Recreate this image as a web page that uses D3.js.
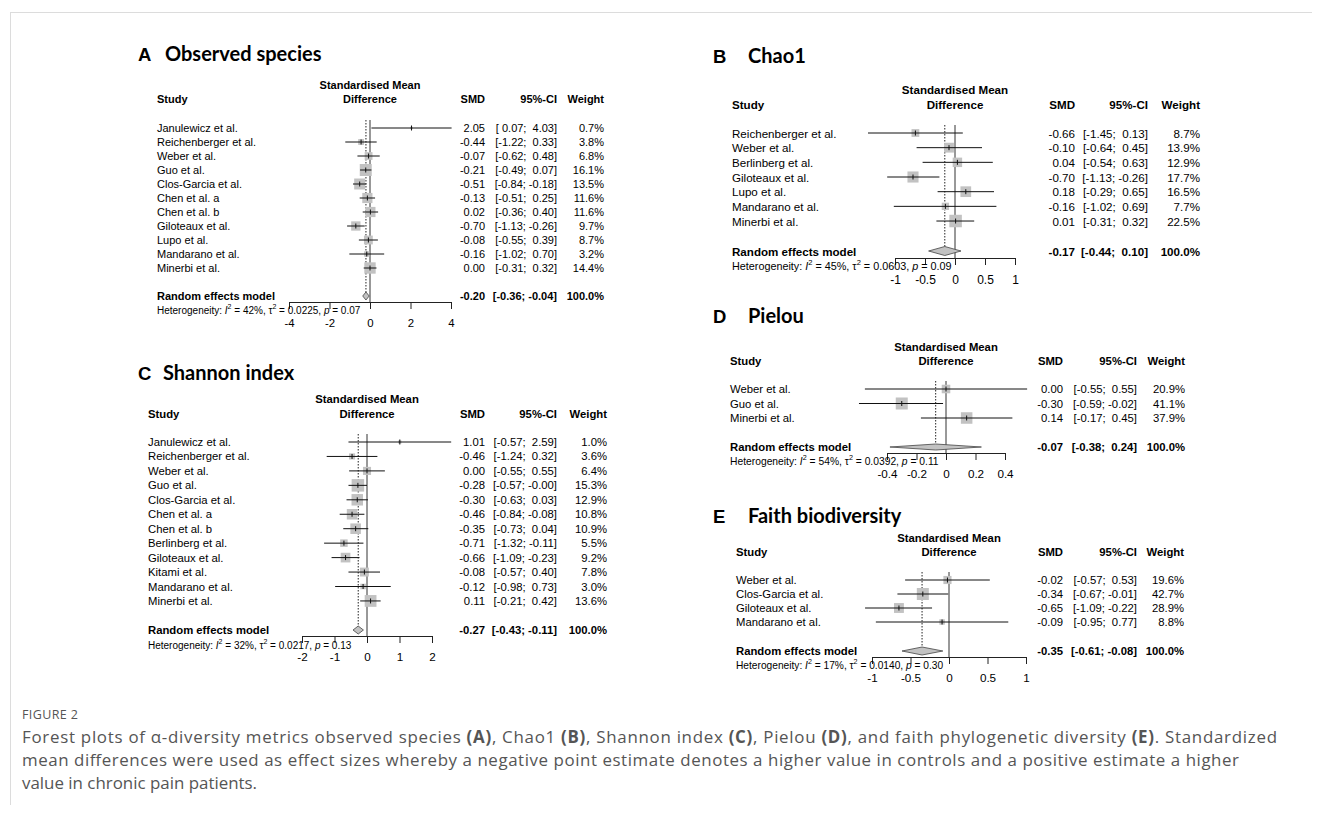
<!DOCTYPE html>
<html><head><meta charset="utf-8">
<script src="https://cdn.jsdelivr.net/npm/d3@7"></script>
<style>
body{margin:0;background:#fff;}
svg text{font-family:"Liberation Sans",Arial,sans-serif;fill:#000;white-space:pre;}
.ttl{font-family:Lato,"Open Sans",sans-serif !important;font-weight:700;}
.cap{font-family:"Open Sans","Noto Sans",sans-serif !important;fill:#555 !important;}
</style></head><body>
<svg id="c" width="1322" height="819"></svg>
<script>
// ---------- Panel A: Observed species ----------
const studiesA = ["Janulewicz et al.","Reichenberger et al.","Weber et al.","Guo et al.","Clos-Garcia et al.","Chen et al. a","Chen et al. b","Giloteaux et al.","Lupo et al.","Mandarano et al.","Minerbi et al."];
const smdA    = [2.05,-0.44,-0.07,-0.21,-0.51,-0.13,0.02,-0.70,-0.08,-0.16,0.00];
const lowerA  = [0.07,-1.22,-0.62,-0.49,-0.84,-0.51,-0.36,-1.13,-0.55,-1.02,-0.31];
const upperA  = [4.03,0.33,0.48,0.07,-0.18,0.25,0.40,-0.26,0.39,0.70,0.32];
const weightA = [0.7,3.8,6.8,16.1,13.5,11.6,11.6,9.7,8.7,3.2,14.4];
const pooledA = [-0.20,-0.36,-0.04];
const hetA    = ["42%","0.0225","0.07"];
const ticksA  = [-4,-2,0,2,4];
const tickLabelsA = ["-4","-2","0","2","4"];

// ---------- Panel B: Chao1 ----------
const studiesB = ["Reichenberger et al.","Weber et al.","Berlinberg et al.","Giloteaux et al.","Lupo et al.","Mandarano et al.","Minerbi et al."];
const smdB    = [-0.66,-0.10,0.04,-0.70,0.18,-0.16,0.01];
const lowerB  = [-1.45,-0.64,-0.54,-1.13,-0.29,-1.02,-0.31];
const upperB  = [0.13,0.45,0.63,-0.26,0.65,0.69,0.32];
const weightB = [8.7,13.9,12.9,17.7,16.5,7.7,22.5];
const pooledB = [-0.17,-0.44,0.10];
const hetB    = ["45%","0.0603","0.09"];
const ticksB  = [-1,-0.5,0,0.5,1];
const tickLabelsB = ["-1","-0.5","0","0.5","1"];

// ---------- Panel C: Shannon index ----------
const studiesC = ["Janulewicz et al.","Reichenberger et al.","Weber et al.","Guo et al.","Clos-Garcia et al.","Chen et al. a","Chen et al. b","Berlinberg et al.","Giloteaux et al.","Kitami et al.","Mandarano et al.","Minerbi et al."];
const smdC    = [1.01,-0.46,0.00,-0.28,-0.30,-0.46,-0.35,-0.71,-0.66,-0.08,-0.12,0.11];
const lowerC  = [-0.57,-1.24,-0.55,-0.57,-0.63,-0.84,-0.73,-1.32,-1.09,-0.57,-0.98,-0.21];
const upperC  = [2.59,0.32,0.55,-0,0.03,-0.08,0.04,-0.11,-0.23,0.40,0.73,0.42];
const weightC = [1.0,3.6,6.4,15.3,12.9,10.8,10.9,5.5,9.2,7.8,3.0,13.6];
const pooledC = [-0.27,-0.43,-0.11];
const hetC    = ["32%","0.0217","0.13"];
const ticksC  = [-2,-1,0,1,2];
const tickLabelsC = ["-2","-1","0","1","2"];

// ---------- Panel D: Pielou ----------
const studiesD = ["Weber et al.","Guo et al.","Minerbi et al."];
const smdD    = [0.00,-0.30,0.14];
const lowerD  = [-0.55,-0.59,-0.17];
const upperD  = [0.55,-0.02,0.45];
const weightD = [20.9,41.1,37.9];
const pooledD = [-0.07,-0.38,0.24];
const hetD    = ["54%","0.0392","0.11"];
const ticksD  = [-0.4,-0.2,0,0.2,0.4];
const tickLabelsD = ["-0.4","-0.2","0","0.2","0.4"];

// ---------- Panel E: Faith biodiversity ----------
const studiesE = ["Weber et al.","Clos-Garcia et al.","Giloteaux et al.","Mandarano et al."];
const smdE    = [-0.02,-0.34,-0.65,-0.09];
const lowerE  = [-0.57,-0.67,-1.09,-0.95];
const upperE  = [0.53,-0.01,-0.22,0.77];
const weightE = [19.6,42.7,28.9,8.8];
const pooledE = [-0.35,-0.61,-0.08];
const hetE    = ["17%","0.0140","0.30"];
const ticksE  = [-1,-0.5,0,0.5,1];
const tickLabelsE = ["-1","-0.5","0","0.5","1"];

const svg = d3.select("#c");

// frame lines
svg.append("line").attr("x1",10).attr("x2",1312).attr("y1",12.5).attr("y2",12.5).attr("stroke","#dcdcdc");
svg.append("line").attr("x1",10.5).attr("x2",10.5).attr("y1",12).attr("y2",805).attr("stroke","#dcdcdc");

function isNeg(v){ return v<0 || Object.is(v,-0); }
function f2(v){ return (isNeg(v)?"-":"")+Math.abs(v).toFixed(2); }
function padv(v){ return isNeg(v) ? f2(v) : " "+f2(v); }
function ciText(lo,hi){ return "["+padv(lo)+"; "+padv(hi)+"]"; }

function drawPanel(p){
  const g = svg.append("g");
  const x = d3.scaleLinear().domain(p.domain).range(p.range);
  const yRow = i => p.rowY0 + i*p.rowStep;
  const fs = p.fs;

  // titles
  g.append("text").attr("x",p.letterX).attr("y",p.titleY)
    .style("font-weight","700").style("font-size","18.5px").text(p.letter);
  g.append("text").attr("class","ttl").attr("x",p.titleX).attr("y",p.titleY)
    .style("font-size","20px").text(p.title);

  // headers
  const hd = (t,xx,yy,anchor)=> g.append("text").attr("x",xx).attr("y",yy)
      .attr("dominant-baseline","central").attr("text-anchor",anchor)
      .style("font-weight","700").style("font-size",fs+"px").text(t);
  const xc = (p.range[0]+p.range[1])/2;
  hd("Study",p.studyX,p.head2,"start");
  hd("Standardised Mean",xc,p.head1,"middle");
  hd("Difference",xc,p.head2,"middle");
  hd("SMD",p.smdR,p.head2,"end");
  hd("95%-CI",p.ciR,p.head2,"end");
  hd("Weight",p.wR,p.head2,"end");

  // reference lines
  g.append("line").attr("x1",x(0)).attr("x2",x(0)).attr("y1",p.refTop).attr("y2",p.axisY)
    .attr("stroke","#333").attr("stroke-width",1);
  g.append("line").attr("x1",x(p.pooled[0])).attr("x2",x(p.pooled[0])).attr("y1",p.refTop).attr("y2",p.pooledY-3)
    .attr("stroke","#222").attr("stroke-width",1).attr("stroke-dasharray","1.5,1.5");

  // squares
  const wmax = d3.max(p.weight);
  const sz = d3.scaleSqrt().domain([0,wmax]).range([0,p.sqMax]);
  const rows = p.studies.map((s,i)=>({s,i,m:p.smd[i],lo:p.lower[i],hi:p.upper[i],w:p.weight[i]}));
  g.selectAll(".sq").data(rows).join("rect")
    .attr("x",d=>x(d.m)-sz(d.w)/2).attr("y",d=>yRow(d.i)-sz(d.w)/2)
    .attr("width",d=>sz(d.w)).attr("height",d=>sz(d.w)).attr("fill","#c2c2c2");
  g.selectAll(".ci").data(rows).join("line")
    .attr("x1",d=>x(d.lo)).attr("x2",d=>x(d.hi)).attr("y1",d=>yRow(d.i)).attr("y2",d=>yRow(d.i))
    .attr("stroke","#111").attr("stroke-width",1);
  g.selectAll(".pt").data(rows).join("line")
    .attr("x1",d=>x(d.m)).attr("x2",d=>x(d.m)).attr("y1",d=>yRow(d.i)-2.5).attr("y2",d=>yRow(d.i)+2.5)
    .attr("stroke","#111").attr("stroke-width",1);

  // row texts
  const rt = (t,xx,yy,anchor,bold)=> g.append("text").attr("x",xx).attr("y",yy)
      .attr("dominant-baseline","central").attr("text-anchor",anchor)
      .style("font-size",fs+"px").style("font-weight",bold?"700":"400").text(t);
  rows.forEach(d=>{
    const yy = yRow(d.i);
    rt(d.s,p.studyX,yy,"start");
    rt(f2(d.m),p.smdR,yy,"end");
    rt(ciText(d.lo,d.hi),p.ciR,yy,"end");
    rt(d.w.toFixed(1)+"%",p.wR,yy,"end");
  });

  // pooled
  const [pm,pl,ph] = p.pooled;
  const dh = p.dh;
  g.append("path").attr("d",`M${x(pl)},${p.pooledY}L${x(pm)},${p.pooledY-dh}L${x(ph)},${p.pooledY}L${x(pm)},${p.pooledY+dh}Z`)
    .attr("fill","#c2c2c2").attr("stroke","#444").attr("stroke-width",0.8);
  rt("Random effects model",p.studyX,p.pooledY,"start",true);
  rt(f2(pm),p.smdR,p.pooledY,"end",true);
  rt(ciText(pl,ph),p.ciR,p.pooledY,"end",true);
  rt("100.0%",p.wR,p.pooledY,"end",true);

  // axis
  const ax = d3.axisBottom(x).tickValues(p.ticks).tickSize(7).tickSizeOuter(0).tickPadding(p.tickPad)
    .tickFormat((d,i)=>p.tickLabels[i]);
  const axg = g.append("g").attr("transform",`translate(0,${p.axisY})`).call(ax);
  axg.select(".domain").attr("stroke","#222");
  axg.selectAll(".tick line").attr("stroke","#222");
  axg.selectAll(".tick text").style("font-size",(fs+0.4)+"px").style("font-family","Liberation Sans, Arial, sans-serif").attr("fill","#000");

  // heterogeneity
  const ht = g.append("text").attr("x",p.studyX).attr("y",p.hetY).attr("dominant-baseline","central")
    .style("font-size",p.hfs+"px");
  ht.append("tspan").text("Heterogeneity: ");
  ht.append("tspan").style("font-style","italic").text("I");
  ht.append("tspan").attr("baseline-shift","45%").style("font-size",(p.hfs*0.7)+"px").text("2");
  ht.append("tspan").text(" = "+p.het[0]+", \u03c4");
  ht.append("tspan").attr("baseline-shift","45%").style("font-size",(p.hfs*0.7)+"px").text("2");
  ht.append("tspan").text(" = "+p.het[1]+", ");
  ht.append("tspan").style("font-style","italic").text("p");
  ht.append("tspan").text(" = "+p.het[2]);
}

drawPanel({letter:"A",title:"Observed species",letterX:138,titleX:165,titleY:61,
  studies:studiesA,smd:smdA,lower:lowerA,upper:upperA,weight:weightA,pooled:pooledA,het:hetA,ticks:ticksA,tickLabels:tickLabelsA,
  domain:[-4,4],range:[289,451],studyX:157,head1:85,head2:99,rowY0:128,rowStep:14,pooledY:296,hetY:310,axisY:302,refTop:120,
  smdR:485,ciR:557,wR:604,fs:11,hfs:10,sqMax:12,dh:4,tickPad:10});

drawPanel({letter:"B",title:"Chao1",letterX:713,titleX:748,titleY:63,
  studies:studiesB,smd:smdB,lower:lowerB,upper:upperB,weight:weightB,pooled:pooledB,het:hetB,ticks:ticksB,tickLabels:tickLabelsB,
  domain:[-1,1],range:[895,1015],studyX:732,head1:89,head2:104,rowY0:133,rowStep:14.67,pooledY:251,hetY:266,axisY:258,refTop:125,
  smdR:1075,ciR:1148,wR:1200,fs:11.6,hfs:10.8,sqMax:12.5,dh:4.5,tickPad:10});

drawPanel({letter:"C",title:"Shannon index",letterX:138,titleX:163,titleY:380,
  studies:studiesC,smd:smdC,lower:lowerC,upper:upperC,weight:weightC,pooled:pooledC,het:hetC,ticks:ticksC,tickLabels:tickLabelsC,
  domain:[-2,2],range:[302,432],studyX:148,head1:399,head2:414,rowY0:442,rowStep:14.45,pooledY:630,hetY:645,axisY:636,refTop:434,
  smdR:485,ciR:557,wR:607,fs:11.3,hfs:10,sqMax:12.5,dh:4,tickPad:10});

drawPanel({letter:"D",title:"Pielou",letterX:713,titleX:748,titleY:323,
  studies:studiesD,smd:smdD,lower:lowerD,upper:upperD,weight:weightD,pooled:pooledD,het:hetD,ticks:ticksD,tickLabels:tickLabelsD,
  domain:[-0.4,0.4],range:[887,1005],studyX:730,head1:347,head2:361,rowY0:389,rowStep:14.5,pooledY:447,hetY:461,axisY:453,refTop:381,
  smdR:1063,ciR:1137,wR:1185,fs:11.3,hfs:10.3,sqMax:12,dh:3,tickPad:10});

drawPanel({letter:"E",title:"Faith biodiversity",letterX:713,titleX:748,titleY:523,
  studies:studiesE,smd:smdE,lower:lowerE,upper:upperE,weight:weightE,pooled:pooledE,het:hetE,ticks:ticksE,tickLabels:tickLabelsE,
  domain:[-1,1],range:[872,1026],studyX:736,head1:538,head2:552,rowY0:580,rowStep:14,pooledY:651,hetY:665,axisY:657,refTop:572,
  smdR:1063,ciR:1137,wR:1184,fs:11.3,hfs:10.2,sqMax:12,dh:4,tickPad:10});

// ---------- caption ----------
svg.append("text").attr("class","cap").attr("x",22).attr("y",719)
  .style("font-size","12.5px").style("letter-spacing","0.4px").text("FIGURE 2");

const capLines = [
  [["Forest plots of \u03b1-diversity metrics observed species ",0],["(A)",1],[", Chao1 ",0],["(B)",1],[", Shannon index ",0],["(C)",1],[", Pielou ",0],["(D)",1],[", and faith phylogenetic diversity ",0],["(E)",1],[". Standardized",0]],
  [["mean differences were used as effect sizes whereby a negative point estimate denotes a higher value in controls and a positive estimate a higher",0]],
  [["value in chronic pain patients.",0]]
];
const capLens = [1255,1217,null];
capLines.forEach((ln,i)=>{
  const t = svg.append("text").attr("class","cap").attr("x",22).attr("y",743+i*23).style("font-size","16.9px");
  if(capLens[i]) t.attr("textLength",capLens[i]).attr("lengthAdjust","spacing");
  ln.forEach(([s,b])=> t.append("tspan").style("font-weight",b?"700":"400").text(s));
});
</script>
</body></html>
